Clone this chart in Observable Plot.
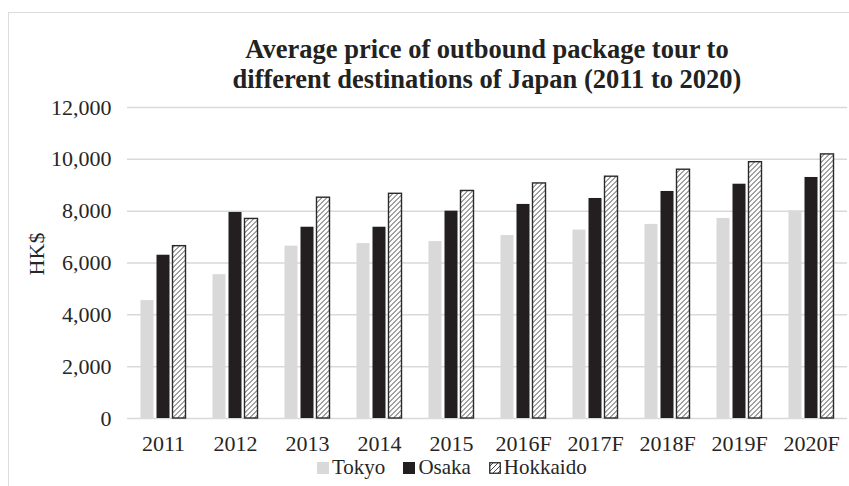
<!DOCTYPE html>
<html>
<head>
<meta charset="utf-8">
<script src="https://cdn.jsdelivr.net/npm/d3@7"></script>
<script src="https://cdn.jsdelivr.net/npm/@observablehq/plot@0.6"></script>
<style>
  html, body { margin: 0; padding: 0; background: #fff; }
  #wrap { position: relative; width: 849px; height: 486px; overflow: hidden; background: #fff;
          font-family: "Liberation Serif", "Times New Roman", serif; color: #262626; }
  #frame { position: absolute; left: 8px; top: 12px; width: 900px; height: 600px;
           border: 1.5px solid #dcdcdc; box-sizing: border-box; }
  #chart { position: absolute; left: 0; top: 0; }
  #title { position: absolute; left: 137px; top: 34px; width: 700px; text-align: center;
           font-weight: bold; font-size: 26.5px; line-height: 30px; color: #222; }
  #ylabel { position: absolute; left: 37px; top: 254px; font-size: 22px; line-height: 22px;
            transform: translate(-50%, -50%) rotate(-90deg); white-space: nowrap; }
  #legend { position: absolute; left: 317px; top: 458px; font-size: 21px; line-height: 18px;
            white-space: nowrap; }
  #legend .item { display: inline-block; margin-right: 18px; }
  #legend svg { vertical-align: baseline; margin-right: 3px; }
</style>
</head>
<body>
<div id="wrap">
  <div id="frame"></div>
  <div id="chart"></div>
  <div id="title">Average price of outbound package tour to<br>different destinations of Japan (2011 to 2020)</div>
  <div id="ylabel">HK$</div>
  <div id="legend"></div>
</div>
<script>
// Years on the category axis (F = forecast)
const years = ["2011", "2012", "2013", "2014", "2015", "2016F", "2017F", "2018F", "2019F", "2020F"];
// Destinations, one bar each per year
const series = ["Tokyo", "Osaka", "Hokkaido"];
// Average package tour price, HK$
const tokyo    = [4550, 5550, 6650, 6750, 6830, 7060, 7270, 7490, 7720, 8010];
const osaka    = [6300, 7950, 7380, 7380, 8000, 8260, 8490, 8760, 9040, 9300];
const hokkaido = [6650, 7700, 8520, 8670, 8780, 9070, 9330, 9600, 9890, 10190];
// Value axis ticks
const yTicks = [0, 2000, 4000, 6000, 8000, 10000, 12000];

const fills = ["#d9d9d9", "#231f20", "url(#hatch)"];

const rows = [];
years.forEach((year, i) => {
  rows.push({year, series: "Tokyo", value: tokyo[i]});
  rows.push({year, series: "Osaka", value: osaka[i]});
  rows.push({year, series: "Hokkaido", value: hokkaido[i]});
});
const hatched = rows.filter(d => d.series === "Hokkaido");

const chart = Plot.plot({
  width: 849,
  height: 486,
  marginTop: 107,
  marginBottom: 68,
  marginLeft: 126.5,
  marginRight: 1.5,
  style: {
    fontFamily: "'Liberation Serif', 'Times New Roman', serif",
    fontSize: "22px",
    color: "#262626",
    background: "transparent",
    overflow: "visible"
  },
  fx: {domain: years, padding: 0, axis: null, label: null},
  x: {domain: series, paddingInner: 0.1875, paddingOuter: 0.84375, axis: null, label: null},
  y: {domain: [0, 12000], axis: null, label: null},
  color: {domain: series, range: fills},
  marks: [
    Plot.gridY(yTicks, {stroke: "#d9d9d9", strokeOpacity: 1, strokeWidth: 1.5}),
    Plot.axisY(yTicks, {tickSize: 0, tickPadding: 16, tickFormat: d3.format(","), fontSize: 22, label: null}),
    Plot.axisFx({anchor: "bottom", tickSize: 0, tickPadding: 17, fontSize: 22, label: null}),
    Plot.barY(rows, {fx: "year", x: "series", y: "value", fill: "series"}),
    Plot.barY(hatched, {fx: "year", x: "series", y: "value", fill: "none", stroke: "#2a2a2a", strokeWidth: 1.4})
  ]
});

// Diagonal hatch used for the Hokkaido bars
const ns = "http://www.w3.org/2000/svg";
function addHatch(svg, id) {
  const defs = document.createElementNS(ns, "defs");
  const pat = document.createElementNS(ns, "pattern");
  pat.setAttribute("id", id);
  pat.setAttribute("patternUnits", "userSpaceOnUse");
  pat.setAttribute("width", "5");
  pat.setAttribute("height", "5");
  const bg = document.createElementNS(ns, "rect");
  bg.setAttribute("width", "5");
  bg.setAttribute("height", "5");
  bg.setAttribute("fill", "#fff");
  const p = document.createElementNS(ns, "path");
  p.setAttribute("d", "M-1,1 L1,-1 M0,5 L5,0 M4,6 L6,4");
  p.setAttribute("stroke", "#333");
  p.setAttribute("stroke-width", "0.9");
  pat.appendChild(bg);
  pat.appendChild(p);
  defs.appendChild(pat);
  svg.insertBefore(defs, svg.firstChild);
}
addHatch(chart, "hatch");
document.getElementById("chart").appendChild(chart);

// Legend
const legend = d3.select("#legend");
series.forEach((name, i) => {
  const item = legend.append("span").attr("class", "item");
  const sw = item.append("svg").attr("width", 12).attr("height", 12);
  if (i === 2) {
    addHatch(sw.node(), "hatch-key");
    sw.append("rect").attr("x", 0.75).attr("y", 0.75).attr("width", 10.5).attr("height", 10.5)
      .attr("fill", "url(#hatch-key)").attr("stroke", "#2a2a2a").attr("stroke-width", 1.3);
  } else {
    sw.append("rect").attr("width", 12).attr("height", 12).attr("fill", fills[i]);
  }
  item.append("span").text(name);
});
</script>
</body>
</html>
